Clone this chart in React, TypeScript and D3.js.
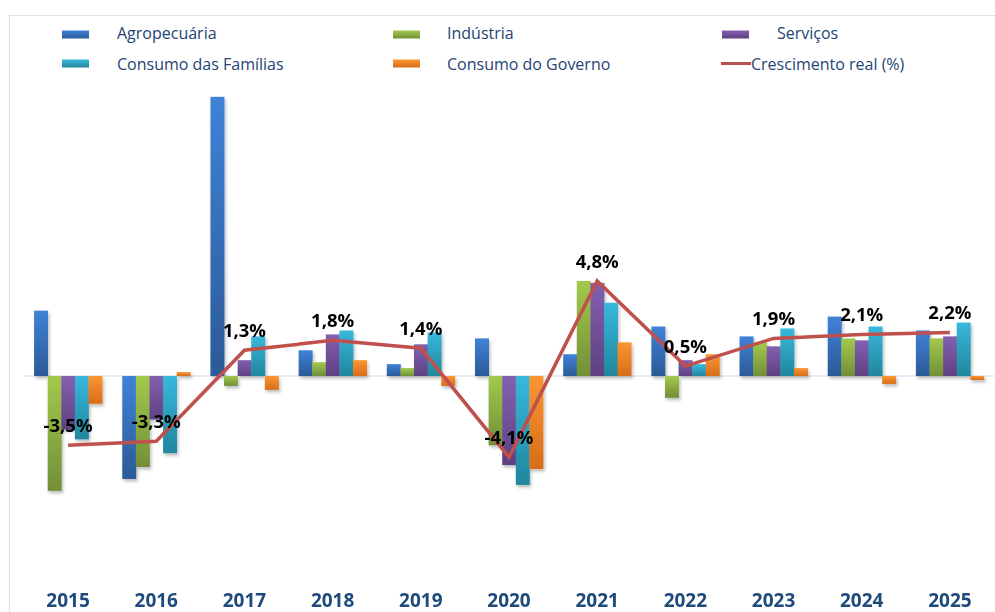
import React from "react";
import * as d3 from "d3";

const years = ["2015", "2016", "2017", "2018", "2019", "2020", "2021", "2022", "2023", "2024", "2025"];
const seriesNames = ["Agropecuária", "Indústria", "Serviços", "Consumo das Famílias", "Consumo do Governo"];
const agro = [3.3, -5.2, 14.1, 1.3, 0.6, 1.9, 1.1, 2.5, 2.0, 3.0, 2.3];
const industria = [-5.8, -4.6, -0.5, 0.7, 0.4, -3.5, 4.8, -1.1, 1.7, 1.9, 1.9];
const servicos = [-2.7, -2.2, 0.8, 2.1, 1.6, -4.5, 4.7, 0.8, 1.5, 1.8, 2.0];
const familias = [-3.2, -3.9, 2.0, 2.3, 2.2, -5.5, 3.7, 0.6, 2.4, 2.5, 2.7];
const governo = [-1.4, 0.2, -0.7, 0.8, -0.5, -4.7, 1.7, 1.1, 0.4, -0.4, -0.2];
const crescimento = [-3.5, -3.3, 1.3, 1.8, 1.4, -4.1, 4.8, 0.5, 1.9, 2.1, 2.2];
const lineName = "Crescimento real (%)";

const seriesValues = [agro, industria, servicos, familias, governo];
const gradients = [
  ["#3f82d8", "#2b5a97"],
  ["#a2c94c", "#738f38"],
  ["#8360b0", "#5e4181"],
  ["#38b8dc", "#21869e"],
  ["#fb9633", "#d76d1a"],
];

export default function App() {
  const W = 995;
  const H = 612;
  const x = d3.scaleBand<string>().domain(years).range([24, 994]).padding(0);
  const groupW = 68;
  const xi = d3
    .scaleBand<string>()
    .domain(seriesNames)
    .range([(x.bandwidth() - groupW) / 2, (x.bandwidth() + groupW) / 2]);
  const y = d3.scaleLinear().domain([-8, 16]).range([376 + 8 * 19.8, 376 - 16 * 19.8]);
  const cx = (yr: string) => (x(yr) as number) + x.bandwidth() / 2;
  const line = d3
    .line<number>()
    .x((_, i) => cx(years[i]))
    .y((v) => y(v));
  const fmt = (v: number) => v.toFixed(1).replace(".", ",") + "%";

  const legendItems = [
    { name: seriesNames[0], sx: 62, tx: 117, row: 0, idx: 0 },
    { name: seriesNames[1], sx: 393, tx: 447, row: 0, idx: 1 },
    { name: seriesNames[2], sx: 722, tx: 777, row: 0, idx: 2 },
    { name: seriesNames[3], sx: 62, tx: 117, row: 1, idx: 3 },
    { name: seriesNames[4], sx: 393, tx: 447, row: 1, idx: 4 },
  ];
  const legendFont = "'Open Sans', 'Noto Sans', sans-serif";

  return (
    <svg
      width={W}
      height={H}
      viewBox={`0 0 ${W} ${H}`}
      style={{ position: "absolute", left: 0, top: 0, display: "block", background: "#fff" }}
    >
      <defs>
        {gradients.map((g, i) => (
          <linearGradient key={i} id={`g${i}`} x1="0" y1="0" x2="0" y2="1">
            <stop offset="0%" stopColor={g[0]} />
            <stop offset="100%" stopColor={g[1]} />
          </linearGradient>
        ))}
        <filter id="shadow" x="-30%" y="-30%" width="160%" height="160%">
          <feDropShadow dx="1.5" dy="2.5" stdDeviation="1.5" floodColor="#000" floodOpacity="0.25" />
        </filter>
      </defs>
      <rect x={0} y={0} width={W} height={H} fill="#fff" />
      <path d={`M9.5,${H} L9.5,15.5 L${W},15.5`} fill="none" stroke="#d8e1ec" strokeWidth={1.2} />

      {/* legend */}
      {legendItems.map((it) => (
        <g key={it.name}>
          <rect
            x={it.sx}
            y={it.row === 0 ? 30.5 : 59.5}
            width={27}
            height={8}
            fill={`url(#g${it.idx})`}
          />
          <text
            x={it.tx}
            y={it.row === 0 ? 39 : 70}
            fontFamily={legendFont}
            fontSize={16}
            fill="#254473"
          >
            {it.name}
          </text>
        </g>
      ))}
      <line x1={721} x2={751} y1={63.5} y2={63.5} stroke="#c0504d" strokeWidth={3} />
      <text x={751} y={70} fontFamily={legendFont} fontSize={16} fill="#254473">
        {lineName}
      </text>

      {/* zero axis */}
      <line x1={24} x2={994} y1={y(0)} y2={y(0)} stroke="#c9dcf0" strokeWidth={1.2} />

      {/* bars */}
      <g filter="url(#shadow)">
        {years.map((yr, yi) => (
          <g key={yr} transform={`translate(${x(yr)},0)`}>
            {seriesNames.map((s, si) => {
              const v = seriesValues[si][yi];
              const y0 = y(Math.max(0, v));
              const h = Math.abs(y(v) - y(0));
              return (
                <rect
                  key={s}
                  x={xi(s) as number}
                  y={y0}
                  width={xi.bandwidth() + 0.4}
                  height={h}
                  fill={`url(#g${si})`}
                />
              );
            })}
          </g>
        ))}
      </g>

      {/* growth line */}
      <path
        d={line(crescimento) || ""}
        fill="none"
        stroke="#c0504d"
        strokeWidth={3.5}
        strokeLinejoin="miter"
      />

      {/* labels */}
      {crescimento.map((v, i) => (
        <text
          key={years[i]}
          x={cx(years[i])}
          y={y(v) - 13}
          textAnchor="middle"
          fontFamily="'Open Sans', 'Noto Sans', sans-serif"
          fontWeight="bold"
          fontSize={18.5}
          fill="#000"
        >
          {fmt(v)}
        </text>
      ))}

      {/* year labels */}
      {years.map((yr) => (
        <text
          key={yr}
          x={cx(yr)}
          y={607}
          textAnchor="middle"
          fontFamily="'Open Sans', 'Noto Sans', sans-serif"
          fontWeight="bold"
          fontSize={19}
          fill="#1f4a7c"
        >
          {yr}
        </text>
      ))}
    </svg>
  );
}
